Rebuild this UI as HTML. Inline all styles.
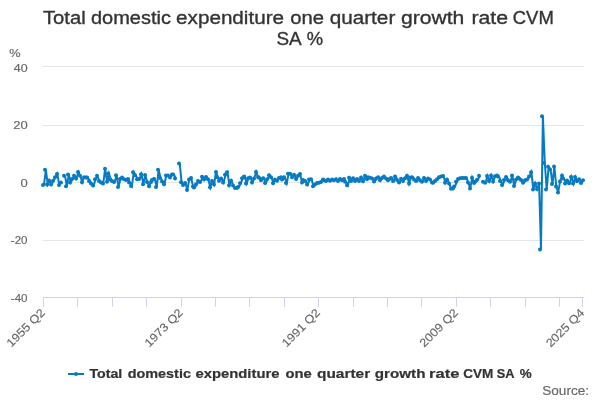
<!DOCTYPE html>
<html><head><meta charset="utf-8"><title>Total domestic expenditure one quarter growth rate CVM SA %</title>
<style>
html,body{margin:0;padding:0;background:#fff;}
body{width:600px;height:400px;overflow:hidden;font-family:"Liberation Sans",sans-serif;}
svg{display:block;}
text{font-family:"Liberation Sans",sans-serif;}
</style></head><body>
<svg width="600" height="400" viewBox="0 0 600 400" style="will-change:transform">
<rect x="0" y="0" width="600" height="400" fill="#ffffff"/>
<g stroke="#E6E6E6" stroke-width="1" fill="none"><path d="M43 66.5 L584 66.5"/><path d="M43 125.5 L584 125.5"/><path d="M43 182.5 L584 182.5"/><path d="M43 240.5 L584 240.5"/></g>
<g stroke="#CCD6EB" stroke-width="1" fill="none"><path d="M43 297.5 L584 297.5"/><path d="M43.5 297 L43.5 307"/><path d="M77.5 297 L77.5 307"/><path d="M112.5 297 L112.5 307"/><path d="M146.5 297 L146.5 307"/><path d="M181.5 297 L181.5 307"/><path d="M215.5 297 L215.5 307"/><path d="M249.5 297 L249.5 307"/><path d="M284.5 297 L284.5 307"/><path d="M318.5 297 L318.5 307"/><path d="M353.5 297 L353.5 307"/><path d="M387.5 297 L387.5 307"/><path d="M421.5 297 L421.5 307"/><path d="M456.5 297 L456.5 307"/><path d="M490.5 297 L490.5 307"/><path d="M525.5 297 L525.5 307"/><path d="M559.5 297 L559.5 307"/><path d="M582.5 297 L582.5 307"/></g>
<path d="M43.96 184.90 L45.87 169.80 L47.78 184.40 L49.69 180.60 L51.60 184.60 L53.51 180.80 L55.43 177.30 L57.34 173.90 L59.25 184.90 L61.16 182.40 M64.98 175.80 L66.90 186.30 L68.81 174.40 L70.72 182.40 L72.63 179.00 L74.54 175.80 L76.45 178.60 L78.37 172.00 L80.28 175.80 L82.19 182.20 L84.10 177.20 L86.01 177.40 L87.92 177.50 L89.84 181.00 L91.75 183.50 L93.66 185.60 L95.57 179.30 L97.48 175.80 L99.39 181.00 L101.31 182.40 L103.22 183.50 L105.13 168.80 L107.04 181.75 L108.95 173.50 L110.86 179.50 L112.78 181.00 L114.69 181.90 L116.60 175.20 L118.51 187.00 L120.42 179.00 L122.33 177.40 L124.25 179.30 L126.16 180.00 L128.07 179.00 L129.98 182.60 L131.89 186.00 L133.80 172.20 L135.72 175.20 L137.63 179.20 L139.54 179.00 L141.45 174.30 L143.36 184.20 L145.27 175.10 L147.19 182.00 L149.10 186.30 L151.01 182.00 L152.92 180.00 L154.83 179.00 L156.74 187.00 L158.66 169.85 L160.57 178.00 L162.48 181.50 L164.39 184.30 L166.30 175.50 L168.21 175.50 L170.13 177.60 L172.04 174.50 L173.95 174.50 L175.86 178.50 M179.68 163.40 L181.60 182.20 L183.51 185.00 L185.42 182.90 L187.33 189.90 L189.24 179.50 L191.15 178.00 L193.07 186.40 L194.98 187.40 L196.89 184.30 L198.80 181.10 L200.71 182.00 L202.62 176.80 L204.54 179.60 L206.45 177.00 L208.36 179.30 L210.27 187.30 L212.18 181.00 L214.09 184.50 L216.01 172.00 L217.92 177.20 L219.83 180.70 L221.74 178.60 L223.65 182.40 L225.56 174.75 L227.48 172.20 L229.39 185.20 L231.30 180.70 L233.21 185.60 L235.12 188.00 L237.03 188.00 L238.95 187.00 L240.86 183.20 L242.77 178.20 L244.68 176.50 L246.59 183.50 L248.50 178.25 L250.42 177.50 L252.33 182.50 L254.24 178.50 L256.15 172.00 L258.06 177.00 L259.97 177.80 L261.89 180.30 L263.80 178.20 L265.71 183.00 L267.62 179.20 L269.53 175.20 L271.44 177.30 L273.36 183.20 L275.27 179.60 L277.18 180.70 L279.09 177.90 L281.00 177.30 L282.91 179.60 L284.83 177.20 L286.74 183.10 L288.65 173.70 L290.56 173.70 L292.47 177.20 L294.38 174.75 L296.30 179.00 L298.21 175.80 L300.12 173.90 L302.03 182.40 L303.94 180.00 L305.85 181.00 L307.77 184.50 L309.68 179.60 L311.59 179.30 L313.50 186.30 L315.41 184.50 L317.32 183.10 L319.23 182.80 L321.15 181.90 L323.06 179.60 L324.97 180.30 L326.88 181.00 L328.79 179.60 L330.70 180.70 L332.62 179.60 L334.53 180.30 L336.44 179.30 L338.35 181.00 L340.26 178.90 L342.17 180.30 L344.09 178.90 L346.00 181.75 L347.91 185.20 L349.82 177.80 L351.73 181.00 L353.64 178.25 L355.56 181.00 L357.47 178.90 L359.38 181.00 L361.29 177.50 L363.20 181.20 L365.11 175.80 L367.03 179.20 L368.94 177.30 L370.85 177.70 L372.76 178.50 L374.67 181.40 L376.58 178.60 L378.50 177.20 L380.41 180.30 L382.32 177.90 L384.23 176.60 L386.14 178.60 L388.05 180.30 L389.97 179.30 L391.88 177.90 L393.79 181.00 L395.70 176.60 L397.61 180.00 L399.52 182.40 L401.44 178.80 L403.35 181.00 L405.26 178.25 L407.17 175.80 L409.08 183.50 L410.99 177.50 L412.91 177.20 L414.82 179.60 L416.73 181.00 L418.64 177.90 L420.55 180.30 L422.46 181.75 L424.38 177.90 L426.29 181.00 L428.20 178.60 L430.11 179.60 L432.02 182.40 L433.93 182.80 L435.85 181.00 L437.76 179.30 L439.67 177.20 L441.58 176.50 L443.49 176.00 L445.40 182.80 L447.32 179.60 L449.23 183.50 L451.14 188.70 L453.05 188.40 L454.96 186.60 L456.87 181.75 L458.79 179.00 L460.70 178.25 L462.61 178.00 L464.52 178.00 L466.43 178.00 L468.34 182.40 L470.26 188.40 L472.17 177.80 L474.08 183.10 L475.99 181.75 L477.90 179.80 L479.81 175.70 M483.64 181.75 L485.55 182.80 L487.46 175.90 L489.37 181.00 L491.28 175.60 L493.20 181.40 L495.11 176.20 L497.02 175.40 L498.93 176.50 L500.84 181.00 L502.75 184.90 L504.67 180.00 L506.58 177.00 L508.49 180.30 L510.40 181.75 L512.31 175.50 L514.22 186.00 L516.14 179.60 L518.05 177.60 L519.96 178.60 L521.87 180.00 L523.78 182.80 L525.69 180.30 L527.61 179.60 L529.52 176.50 L531.43 172.30 L533.34 189.40 L535.25 183.50 L537.16 189.00 L539.08 183.50 L540.99 249.50 L542.90 116.25 L544.81 163.00 L546.72 189.60 L548.63 166.80 L550.55 169.50 L552.46 184.10 L554.37 166.50 L556.28 186.50 L558.19 192.40 L560.10 181.40 L562.02 175.40 L563.93 178.50 L565.84 183.40 L567.75 180.60 L569.66 183.30 L571.57 177.00 L573.49 183.50 L575.40 177.10 L577.31 181.30 L579.22 179.20 L581.13 183.00 L583.04 180.25" fill="none" stroke="#067BC3" stroke-width="2" stroke-linejoin="miter" stroke-linecap="butt"/>
<g fill="#067BC3" stroke="none"><circle cx="43" cy="184.90" r="2"/><circle cx="45" cy="169.80" r="2"/><circle cx="47" cy="184.40" r="2"/><circle cx="49" cy="180.60" r="2"/><circle cx="51" cy="184.60" r="2"/><circle cx="53" cy="180.80" r="2"/><circle cx="55" cy="177.30" r="2"/><circle cx="57" cy="173.90" r="2"/><circle cx="59" cy="184.90" r="2"/><circle cx="61" cy="182.40" r="2"/><circle cx="64" cy="175.80" r="2"/><circle cx="66" cy="186.30" r="2"/><circle cx="68" cy="174.40" r="2"/><circle cx="70" cy="182.40" r="2"/><circle cx="72" cy="179.00" r="2"/><circle cx="74" cy="175.80" r="2"/><circle cx="76" cy="178.60" r="2"/><circle cx="78" cy="172.00" r="2"/><circle cx="80" cy="175.80" r="2"/><circle cx="82" cy="182.20" r="2"/><circle cx="84" cy="177.20" r="2"/><circle cx="86" cy="177.40" r="2"/><circle cx="87" cy="177.50" r="2"/><circle cx="89" cy="181.00" r="2"/><circle cx="91" cy="183.50" r="2"/><circle cx="93" cy="185.60" r="2"/><circle cx="95" cy="179.30" r="2"/><circle cx="97" cy="175.80" r="2"/><circle cx="99" cy="181.00" r="2"/><circle cx="101" cy="182.40" r="2"/><circle cx="103" cy="183.50" r="2"/><circle cx="105" cy="168.80" r="2"/><circle cx="107" cy="181.75" r="2"/><circle cx="108" cy="173.50" r="2"/><circle cx="110" cy="179.50" r="2"/><circle cx="112" cy="181.00" r="2"/><circle cx="114" cy="181.90" r="2"/><circle cx="116" cy="175.20" r="2"/><circle cx="118" cy="187.00" r="2"/><circle cx="120" cy="179.00" r="2"/><circle cx="122" cy="177.40" r="2"/><circle cx="124" cy="179.30" r="2"/><circle cx="126" cy="180.00" r="2"/><circle cx="128" cy="179.00" r="2"/><circle cx="129" cy="182.60" r="2"/><circle cx="131" cy="186.00" r="2"/><circle cx="133" cy="172.20" r="2"/><circle cx="135" cy="175.20" r="2"/><circle cx="137" cy="179.20" r="2"/><circle cx="139" cy="179.00" r="2"/><circle cx="141" cy="174.30" r="2"/><circle cx="143" cy="184.20" r="2"/><circle cx="145" cy="175.10" r="2"/><circle cx="147" cy="182.00" r="2"/><circle cx="149" cy="186.30" r="2"/><circle cx="151" cy="182.00" r="2"/><circle cx="152" cy="180.00" r="2"/><circle cx="154" cy="179.00" r="2"/><circle cx="156" cy="187.00" r="2"/><circle cx="158" cy="169.85" r="2"/><circle cx="160" cy="178.00" r="2"/><circle cx="162" cy="181.50" r="2"/><circle cx="164" cy="184.30" r="2"/><circle cx="166" cy="175.50" r="2"/><circle cx="168" cy="175.50" r="2"/><circle cx="170" cy="177.60" r="2"/><circle cx="172" cy="174.50" r="2"/><circle cx="173" cy="174.50" r="2"/><circle cx="175" cy="178.50" r="2"/><circle cx="179" cy="163.40" r="2"/><circle cx="181" cy="182.20" r="2"/><circle cx="183" cy="185.00" r="2"/><circle cx="185" cy="182.90" r="2"/><circle cx="187" cy="189.90" r="2"/><circle cx="189" cy="179.50" r="2"/><circle cx="191" cy="178.00" r="2"/><circle cx="193" cy="186.40" r="2"/><circle cx="194" cy="187.40" r="2"/><circle cx="196" cy="184.30" r="2"/><circle cx="198" cy="181.10" r="2"/><circle cx="200" cy="182.00" r="2"/><circle cx="202" cy="176.80" r="2"/><circle cx="204" cy="179.60" r="2"/><circle cx="206" cy="177.00" r="2"/><circle cx="208" cy="179.30" r="2"/><circle cx="210" cy="187.30" r="2"/><circle cx="212" cy="181.00" r="2"/><circle cx="214" cy="184.50" r="2"/><circle cx="216" cy="172.00" r="2"/><circle cx="217" cy="177.20" r="2"/><circle cx="219" cy="180.70" r="2"/><circle cx="221" cy="178.60" r="2"/><circle cx="223" cy="182.40" r="2"/><circle cx="225" cy="174.75" r="2"/><circle cx="227" cy="172.20" r="2"/><circle cx="229" cy="185.20" r="2"/><circle cx="231" cy="180.70" r="2"/><circle cx="233" cy="185.60" r="2"/><circle cx="235" cy="188.00" r="2"/><circle cx="237" cy="188.00" r="2"/><circle cx="238" cy="187.00" r="2"/><circle cx="240" cy="183.20" r="2"/><circle cx="242" cy="178.20" r="2"/><circle cx="244" cy="176.50" r="2"/><circle cx="246" cy="183.50" r="2"/><circle cx="248" cy="178.25" r="2"/><circle cx="250" cy="177.50" r="2"/><circle cx="252" cy="182.50" r="2"/><circle cx="254" cy="178.50" r="2"/><circle cx="256" cy="172.00" r="2"/><circle cx="258" cy="177.00" r="2"/><circle cx="259" cy="177.80" r="2"/><circle cx="261" cy="180.30" r="2"/><circle cx="263" cy="178.20" r="2"/><circle cx="265" cy="183.00" r="2"/><circle cx="267" cy="179.20" r="2"/><circle cx="269" cy="175.20" r="2"/><circle cx="271" cy="177.30" r="2"/><circle cx="273" cy="183.20" r="2"/><circle cx="275" cy="179.60" r="2"/><circle cx="277" cy="180.70" r="2"/><circle cx="279" cy="177.90" r="2"/><circle cx="281" cy="177.30" r="2"/><circle cx="282" cy="179.60" r="2"/><circle cx="284" cy="177.20" r="2"/><circle cx="286" cy="183.10" r="2"/><circle cx="288" cy="173.70" r="2"/><circle cx="290" cy="173.70" r="2"/><circle cx="292" cy="177.20" r="2"/><circle cx="294" cy="174.75" r="2"/><circle cx="296" cy="179.00" r="2"/><circle cx="298" cy="175.80" r="2"/><circle cx="300" cy="173.90" r="2"/><circle cx="302" cy="182.40" r="2"/><circle cx="303" cy="180.00" r="2"/><circle cx="305" cy="181.00" r="2"/><circle cx="307" cy="184.50" r="2"/><circle cx="309" cy="179.60" r="2"/><circle cx="311" cy="179.30" r="2"/><circle cx="313" cy="186.30" r="2"/><circle cx="315" cy="184.50" r="2"/><circle cx="317" cy="183.10" r="2"/><circle cx="319" cy="182.80" r="2"/><circle cx="321" cy="181.90" r="2"/><circle cx="323" cy="179.60" r="2"/><circle cx="324" cy="180.30" r="2"/><circle cx="326" cy="181.00" r="2"/><circle cx="328" cy="179.60" r="2"/><circle cx="330" cy="180.70" r="2"/><circle cx="332" cy="179.60" r="2"/><circle cx="334" cy="180.30" r="2"/><circle cx="336" cy="179.30" r="2"/><circle cx="338" cy="181.00" r="2"/><circle cx="340" cy="178.90" r="2"/><circle cx="342" cy="180.30" r="2"/><circle cx="344" cy="178.90" r="2"/><circle cx="345" cy="181.75" r="2"/><circle cx="347" cy="185.20" r="2"/><circle cx="349" cy="177.80" r="2"/><circle cx="351" cy="181.00" r="2"/><circle cx="353" cy="178.25" r="2"/><circle cx="355" cy="181.00" r="2"/><circle cx="357" cy="178.90" r="2"/><circle cx="359" cy="181.00" r="2"/><circle cx="361" cy="177.50" r="2"/><circle cx="363" cy="181.20" r="2"/><circle cx="365" cy="175.80" r="2"/><circle cx="367" cy="179.20" r="2"/><circle cx="368" cy="177.30" r="2"/><circle cx="370" cy="177.70" r="2"/><circle cx="372" cy="178.50" r="2"/><circle cx="374" cy="181.40" r="2"/><circle cx="376" cy="178.60" r="2"/><circle cx="378" cy="177.20" r="2"/><circle cx="380" cy="180.30" r="2"/><circle cx="382" cy="177.90" r="2"/><circle cx="384" cy="176.60" r="2"/><circle cx="386" cy="178.60" r="2"/><circle cx="388" cy="180.30" r="2"/><circle cx="389" cy="179.30" r="2"/><circle cx="391" cy="177.90" r="2"/><circle cx="393" cy="181.00" r="2"/><circle cx="395" cy="176.60" r="2"/><circle cx="397" cy="180.00" r="2"/><circle cx="399" cy="182.40" r="2"/><circle cx="401" cy="178.80" r="2"/><circle cx="403" cy="181.00" r="2"/><circle cx="405" cy="178.25" r="2"/><circle cx="407" cy="175.80" r="2"/><circle cx="409" cy="183.50" r="2"/><circle cx="410" cy="177.50" r="2"/><circle cx="412" cy="177.20" r="2"/><circle cx="414" cy="179.60" r="2"/><circle cx="416" cy="181.00" r="2"/><circle cx="418" cy="177.90" r="2"/><circle cx="420" cy="180.30" r="2"/><circle cx="422" cy="181.75" r="2"/><circle cx="424" cy="177.90" r="2"/><circle cx="426" cy="181.00" r="2"/><circle cx="428" cy="178.60" r="2"/><circle cx="430" cy="179.60" r="2"/><circle cx="432" cy="182.40" r="2"/><circle cx="433" cy="182.80" r="2"/><circle cx="435" cy="181.00" r="2"/><circle cx="437" cy="179.30" r="2"/><circle cx="439" cy="177.20" r="2"/><circle cx="441" cy="176.50" r="2"/><circle cx="443" cy="176.00" r="2"/><circle cx="445" cy="182.80" r="2"/><circle cx="447" cy="179.60" r="2"/><circle cx="449" cy="183.50" r="2"/><circle cx="451" cy="188.70" r="2"/><circle cx="453" cy="188.40" r="2"/><circle cx="454" cy="186.60" r="2"/><circle cx="456" cy="181.75" r="2"/><circle cx="458" cy="179.00" r="2"/><circle cx="460" cy="178.25" r="2"/><circle cx="462" cy="178.00" r="2"/><circle cx="464" cy="178.00" r="2"/><circle cx="466" cy="178.00" r="2"/><circle cx="468" cy="182.40" r="2"/><circle cx="470" cy="188.40" r="2"/><circle cx="472" cy="177.80" r="2"/><circle cx="474" cy="183.10" r="2"/><circle cx="475" cy="181.75" r="2"/><circle cx="477" cy="179.80" r="2"/><circle cx="479" cy="175.70" r="2"/><circle cx="483" cy="181.75" r="2"/><circle cx="485" cy="182.80" r="2"/><circle cx="487" cy="175.90" r="2"/><circle cx="489" cy="181.00" r="2"/><circle cx="491" cy="175.60" r="2"/><circle cx="493" cy="181.40" r="2"/><circle cx="495" cy="176.20" r="2"/><circle cx="497" cy="175.40" r="2"/><circle cx="498" cy="176.50" r="2"/><circle cx="500" cy="181.00" r="2"/><circle cx="502" cy="184.90" r="2"/><circle cx="504" cy="180.00" r="2"/><circle cx="506" cy="177.00" r="2"/><circle cx="508" cy="180.30" r="2"/><circle cx="510" cy="181.75" r="2"/><circle cx="512" cy="175.50" r="2"/><circle cx="514" cy="186.00" r="2"/><circle cx="516" cy="179.60" r="2"/><circle cx="518" cy="177.60" r="2"/><circle cx="519" cy="178.60" r="2"/><circle cx="521" cy="180.00" r="2"/><circle cx="523" cy="182.80" r="2"/><circle cx="525" cy="180.30" r="2"/><circle cx="527" cy="179.60" r="2"/><circle cx="529" cy="176.50" r="2"/><circle cx="531" cy="172.30" r="2"/><circle cx="533" cy="189.40" r="2"/><circle cx="535" cy="183.50" r="2"/><circle cx="537" cy="189.00" r="2"/><circle cx="539" cy="183.50" r="2"/><circle cx="540" cy="249.50" r="2"/><circle cx="542" cy="116.25" r="2"/><circle cx="544" cy="163.00" r="2"/><circle cx="546" cy="189.60" r="2"/><circle cx="548" cy="166.80" r="2"/><circle cx="550" cy="169.50" r="2"/><circle cx="552" cy="184.10" r="2"/><circle cx="554" cy="166.50" r="2"/><circle cx="556" cy="186.50" r="2"/><circle cx="558" cy="192.40" r="2"/><circle cx="560" cy="181.40" r="2"/><circle cx="562" cy="175.40" r="2"/><circle cx="563" cy="178.50" r="2"/><circle cx="565" cy="183.40" r="2"/><circle cx="567" cy="180.60" r="2"/><circle cx="569" cy="183.30" r="2"/><circle cx="571" cy="177.00" r="2"/><circle cx="573" cy="183.50" r="2"/><circle cx="575" cy="177.10" r="2"/><circle cx="577" cy="181.30" r="2"/><circle cx="579" cy="179.20" r="2"/><circle cx="581" cy="183.00" r="2"/><circle cx="583" cy="180.25" r="2"/></g>
<text x="42.97" y="23.7" font-size="18.9px" fill="#333333" stroke="#333333" stroke-width="0.35" textLength="42.73" lengthAdjust="spacingAndGlyphs">Total</text>
<text x="90.92" y="23.7" font-size="18.9px" fill="#333333" stroke="#333333" stroke-width="0.35" textLength="79.97" lengthAdjust="spacingAndGlyphs">domestic</text>
<text x="176.09" y="23.7" font-size="18.9px" fill="#333333" stroke="#333333" stroke-width="0.35" textLength="107.99" lengthAdjust="spacingAndGlyphs">expenditure</text>
<text x="290.22" y="23.7" font-size="18.9px" fill="#333333" stroke="#333333" stroke-width="0.35" textLength="33.84" lengthAdjust="spacingAndGlyphs">one</text>
<text x="329.65" y="23.7" font-size="18.9px" fill="#333333" stroke="#333333" stroke-width="0.35" textLength="65.64" lengthAdjust="spacingAndGlyphs">quarter</text>
<text x="401.09" y="23.7" font-size="18.9px" fill="#333333" stroke="#333333" stroke-width="0.35" textLength="63.25" lengthAdjust="spacingAndGlyphs">growth</text>
<text x="471.46" y="23.7" font-size="18.9px" fill="#333333" stroke="#333333" stroke-width="0.35" textLength="36.65" lengthAdjust="spacingAndGlyphs">rate</text>
<text x="512.76" y="23.7" font-size="18.9px" fill="#333333" stroke="#333333" stroke-width="0.35" textLength="41.05" lengthAdjust="spacingAndGlyphs">CVM</text>
<text x="276.42" y="44.5" font-size="18.9px" fill="#333333" stroke="#333333" stroke-width="0.35" textLength="25.23" lengthAdjust="spacingAndGlyphs">SA</text>
<text x="306.75" y="44.5" font-size="18.9px" fill="#333333" stroke="#333333" stroke-width="0.35" textLength="16.32" lengthAdjust="spacingAndGlyphs">%</text>
<text x="13.82" y="72" font-size="11.6px" fill="#666666" stroke="#666666" stroke-width="0.15" textLength="13.84" lengthAdjust="spacingAndGlyphs">40</text>
<text x="13.37" y="129" font-size="11.6px" fill="#666666" stroke="#666666" stroke-width="0.15" textLength="14.54" lengthAdjust="spacingAndGlyphs">20</text>
<text x="20.62" y="187" font-size="11.6px" fill="#666666" stroke="#666666" stroke-width="0.15" textLength="7.26" lengthAdjust="spacingAndGlyphs">0</text>
<text x="10.77" y="243.7" font-size="11.6px" fill="#666666" stroke="#666666" stroke-width="0.15" textLength="16.80" lengthAdjust="spacingAndGlyphs">-20</text>
<text x="10.77" y="301.8" font-size="11.6px" fill="#666666" stroke="#666666" stroke-width="0.15" textLength="16.80" lengthAdjust="spacingAndGlyphs">-40</text>
<text x="9.30" y="57" font-size="11.6px" fill="#666666" stroke="#666666" stroke-width="0.15" textLength="11.29" lengthAdjust="spacingAndGlyphs">%</text>
<text x="89.49" y="378" font-size="12.6px" font-weight="bold" fill="#333333" stroke="#333333" stroke-width="0.2" textLength="32.82" lengthAdjust="spacingAndGlyphs">Total</text>
<text x="127.71" y="378" font-size="12.6px" font-weight="bold" fill="#333333" stroke="#333333" stroke-width="0.2" textLength="63.24" lengthAdjust="spacingAndGlyphs">domestic</text>
<text x="195.53" y="378" font-size="12.6px" font-weight="bold" fill="#333333" stroke="#333333" stroke-width="0.2" textLength="83.97" lengthAdjust="spacingAndGlyphs">expenditure</text>
<text x="285.55" y="378" font-size="12.6px" font-weight="bold" fill="#333333" stroke="#333333" stroke-width="0.2" textLength="26.25" lengthAdjust="spacingAndGlyphs">one</text>
<text x="316.94" y="378" font-size="12.6px" font-weight="bold" fill="#333333" stroke="#333333" stroke-width="0.2" textLength="53.24" lengthAdjust="spacingAndGlyphs">quarter</text>
<text x="374.80" y="378" font-size="12.6px" font-weight="bold" fill="#333333" stroke="#333333" stroke-width="0.2" textLength="50.64" lengthAdjust="spacingAndGlyphs">growth</text>
<text x="429.01" y="378" font-size="12.6px" font-weight="bold" fill="#333333" stroke="#333333" stroke-width="0.2" textLength="30.34" lengthAdjust="spacingAndGlyphs">rate</text>
<text x="463.18" y="378" font-size="12.6px" font-weight="bold" fill="#333333" stroke="#333333" stroke-width="0.2" textLength="30.16" lengthAdjust="spacingAndGlyphs">CVM</text>
<text x="496.68" y="378" font-size="12.6px" font-weight="bold" fill="#333333" stroke="#333333" stroke-width="0.2" textLength="17.74" lengthAdjust="spacingAndGlyphs">SA</text>
<text x="519.73" y="378" font-size="12.6px" font-weight="bold" fill="#333333" stroke="#333333" stroke-width="0.2" textLength="11.94" lengthAdjust="spacingAndGlyphs">%</text>
<text x="542.16" y="394.6" font-size="12.6px" fill="#666666" stroke="#666666" stroke-width="0.15" textLength="46.92" lengthAdjust="spacingAndGlyphs">Source:</text>
<g fill="#666666" stroke="#666666" stroke-width="0.12" font-size="11.6px" text-anchor="end">
<text transform="translate(45.7,313.4) rotate(-45)" textLength="48.6" lengthAdjust="spacingAndGlyphs">1955 Q2</text>
<text transform="translate(183.6,313.4) rotate(-45)" textLength="48.6" lengthAdjust="spacingAndGlyphs">1973 Q2</text>
<text transform="translate(320.8,313.4) rotate(-45)" textLength="48.6" lengthAdjust="spacingAndGlyphs">1991 Q2</text>
<text transform="translate(458.7,313.4) rotate(-45)" textLength="48.6" lengthAdjust="spacingAndGlyphs">2009 Q2</text>
<text transform="translate(585.0,313.5) rotate(-45)" textLength="48.6" lengthAdjust="spacingAndGlyphs">2025 Q4</text>
</g>
<path d="M68 374 L84 374" stroke="#067BC3" stroke-width="2" fill="none"/>
<circle cx="76" cy="374" r="2" fill="#067BC3"/>
</svg>
</body></html>
